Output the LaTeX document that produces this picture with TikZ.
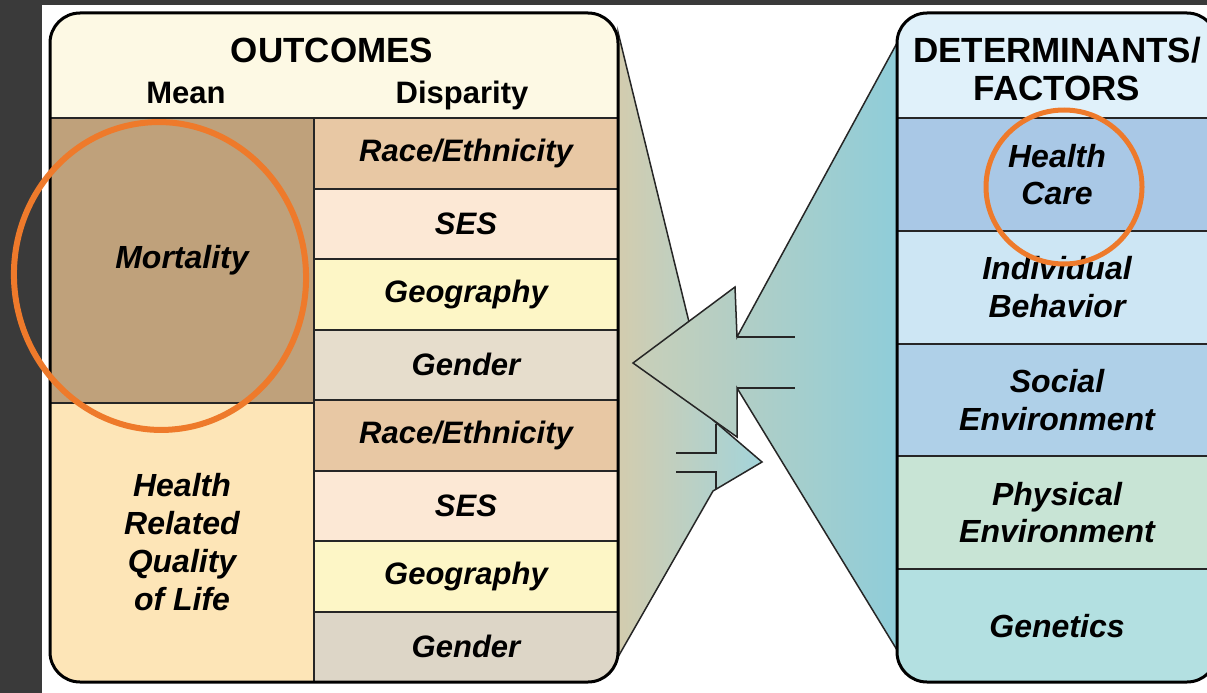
\documentclass[tikz,border=0pt]{standalone}
\usepackage{fontspec}
\setmainfont{Liberation Sans}
\usetikzlibrary{positioning}

\definecolor{board}{HTML}{3A3A3A}
\definecolor{outHead}{HTML}{FDF9E4}
\definecolor{mortC}{HTML}{BFA17B}
\definecolor{qolC}{HTML}{FDE5B7}
\definecolor{raceC}{HTML}{E8C8A4}
\definecolor{sesC}{HTML}{FCE8D5}
\definecolor{geoC}{HTML}{FDF6C6}
\definecolor{genC}{HTML}{E6DDCC}
\definecolor{genD}{HTML}{DDD6C7}
\definecolor{detHead}{HTML}{E0F1FA}
\definecolor{careC}{HTML}{A9C8E6}
\definecolor{behavC}{HTML}{CDE6F4}
\definecolor{socC}{HTML}{AFD0E8}
\definecolor{physC}{HTML}{C8E4D5}
\definecolor{geneC}{HTML}{B3E0E1}
\definecolor{calTan}{HTML}{D3CCAE}
\definecolor{calMid}{HTML}{C9CFB8}
\definecolor{calTeal}{HTML}{8FCDD9}
\definecolor{calLight}{HTML}{A3D4DA}
\definecolor{ringC}{HTML}{EE7A2B}

\begin{document}
\begin{tikzpicture}[x=1pt,y=-1pt,
    every node/.style={inner sep=0pt, outer sep=0pt, align=center,
      font=\bfseries\itshape\fontsize{31}{37}\selectfont},
    disp/.style={draw=black!85, line width=2pt, minimum width=304pt, minimum height=70.5pt},
    mean/.style={draw=black!85, line width=2pt, minimum width=264pt,
      font=\bfseries\itshape\fontsize{32}{38}\selectfont},
    fact/.style={draw=black!85, line width=2pt, minimum width=320pt, minimum height=112.8pt,
      font=\bfseries\itshape\fontsize{32}{37.5}\selectfont},
    head/.style={anchor=base, font=\bfseries\fontsize{35}{40}\selectfont},
    subhead/.style={anchor=base, font=\bfseries\fontsize{31}{36}\selectfont},
    callout/.style={draw=black!85, line width=1.5pt},
    ring/.style={draw=ringC, line width=5pt}]

    % board and sheet
    \useasboundingbox (0,0) rectangle (1207,693);
    \fill[board] (0,0) rectangle (1207,693);
    \fill[white] (42,5) rectangle (1207,693);

    % callouts
    \draw[callout, left color=calTan, right color=calLight] (618,32) -- (713,420) -- (762,462) -- (713,491) -- (618,657) -- cycle;
    \draw[callout] (676,453) -- (716,453) -- (716,424) (676,472) -- (716,472) -- (716,489);
    \draw[callout, left color=calMid, right color=calTeal] (897,43) -- (737,337) -- (735,287) -- (633,363) -- (737,437) -- (737,388) -- (897,650) -- cycle;
    \draw[callout] (737,337) -- (795,337) (737,388) -- (795,388);

    % outcomes panel
    \begin{scope}
        \clip[rounded corners=30pt] (50,13) rectangle (618,682);
        \fill[outHead] (50,13) rectangle (618,118);
        \node[disp, fill=raceC] (race1) at (466,153.25) {Race/Ethnicity};
        \node[disp, fill=sesC, below=0pt of race1] (ses1) {SES};
        \node[disp, fill=geoC, below=0pt of ses1] (geo1) {Geography};
        \node[disp, fill=genC, below=0pt of geo1] (gen1) {Gender};
        \node[disp, fill=raceC, below=0pt of gen1] (race2) {Race/Ethnicity};
        \node[disp, fill=sesC, below=0pt of race2] (ses2) {SES};
        \node[disp, fill=geoC, below=0pt of ses2] (geo2) {Geography};
        \node[disp, fill=genD, below=0pt of geo2] (gen2) {Gender};
        \node[mean, fill=mortC, minimum height=285pt] (mort) at (182,260.5) {Mortality};
        \node[mean, fill=qolC, minimum height=279pt, below=0pt of mort] (qol) {Health\\Related\\Quality\\of Life};
    \end{scope}
    \draw[line width=3pt, rounded corners=30pt] (50,13) rectangle (618,682);
    \node[head] (outcomes) at (332,63) {OUTCOMES};
    \node[subhead] (meanlbl) at (186,103) {Mean};
    \node[subhead] (disparity) at (462,103) {Disparity};

    % determinants panel
    \begin{scope}
        \clip[rounded corners=30pt] (897,13) rectangle (1217,682);
        \fill[detHead] (897,13) rectangle (1217,118);
        \node[fact, fill=careC] (care) at (1057,174.4) {Health\\Care};
        \node[fact, fill=behavC, below=0pt of care] (behav) {Individual\\Behavior};
        \node[fact, fill=socC, below=0pt of behav] (social) {Social\\Environment};
        \node[fact, fill=physC, below=0pt of social] (phys) {Physical\\Environment};
        \node[fact, fill=geneC, below=0pt of phys] (genet) {Genetics};
    \end{scope}
    \draw[line width=3pt, rounded corners=30pt] (897,13) rectangle (1217,682);
    \node[head] (determ) at (1057,63) {DETERMINANTS/};
    \node[head] (factors) at (1057,100) {FACTORS};

    % highlight rings
    \draw[ring, line width=6pt] (160,276) ellipse [x radius=146pt, y radius=154pt, rotate=5];
    \draw[ring] (1064,187) ellipse [x radius=78pt, y radius=77pt];
\end{tikzpicture}
\end{document}
